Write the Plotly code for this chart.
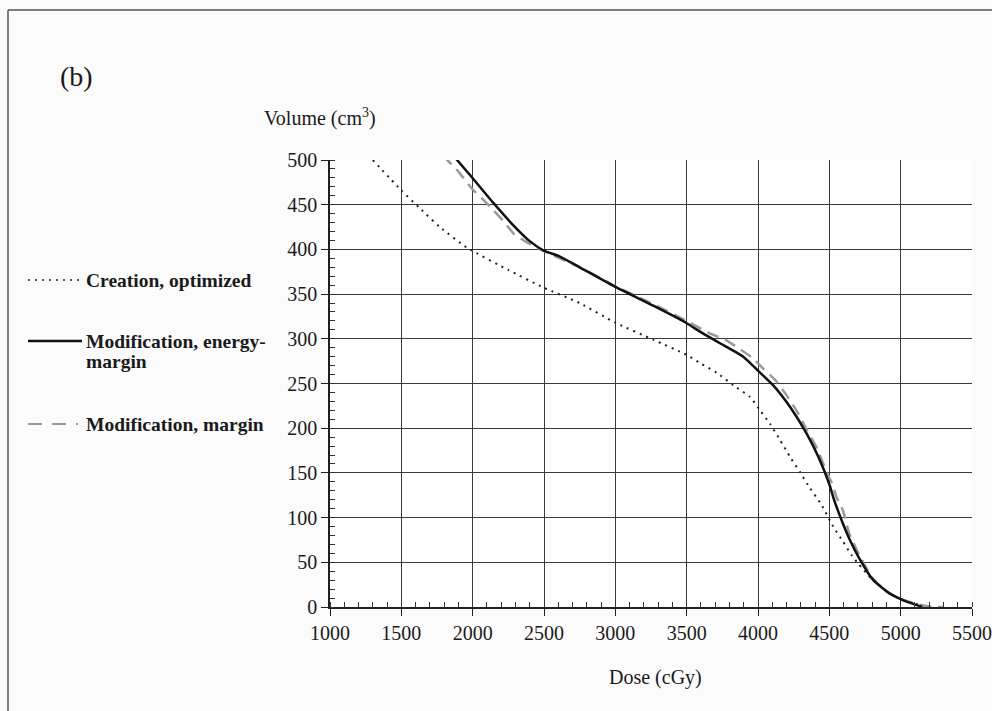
import plotly.graph_objects as go

# ---------------- data ----------------
dose_creation = [1300, 1500, 1630, 1770, 1960, 2250, 2500, 2750, 3000, 3266, 3500, 3593, 3711, 3827, 3944, 4014, 4084,
                 4154, 4224, 4294, 4364, 4446, 4527, 4597, 4656, 4700, 4800, 4925, 5042, 5200]
vol_creation = [500, 466, 446, 425, 402, 377, 357, 340, 318, 299, 282, 273, 262, 248, 235, 220, 205,
                187, 168, 151, 133, 114, 90, 73, 58, 49, 31, 15, 6, 0]

dose_energy = [1864, 1993, 2145, 2285, 2402, 2495, 2612, 2750, 3000, 3266, 3495, 3593, 3734, 3897, 4009, 4107, 4224,
               4341, 4423, 4505, 4527, 4586, 4644, 4715, 4808, 4925, 5042, 5135, 5150]
vol_energy = [505, 481, 452, 427, 409, 399, 392, 380, 358, 337, 318, 308, 295, 280, 263, 248, 224,
              194, 168, 135, 123, 97, 75, 53, 30, 15, 6, 1, 0]

dose_margin = [1792, 1900, 2000, 2090, 2145, 2225, 2285, 2390, 2500, 2750, 3000, 3250, 3500, 3663, 3768, 3860, 3965,
               4035, 4120, 4200, 4280, 4343, 4415, 4483, 4520, 4550, 4595, 4640, 4720, 4800, 4900, 5000, 5150, 5230, 5300]
vol_margin = [505, 487, 467, 453, 444, 430, 418, 407, 398, 380, 359, 340, 320, 306, 299, 290, 278,
              267, 254, 237, 217, 198, 177, 150, 138, 123, 108, 82, 55, 33, 17, 9, 2, 0, 0]

x_ticks = [1000, 1500, 2000, 2500, 3000, 3500, 4000, 4500, 5000, 5500]
y_ticks = [0, 50, 100, 150, 200, 250, 300, 350, 400, 450, 500]

series_names = ["Creation, optimized", "Modification, energy-margin", "Modification, margin"]

# ---------------- layout geometry ----------------
W, H = 992, 711
L, R, T, B = 330, 972, 160, 607   # plot area in pixels


def px(x):
    return (x - L) / (R - L)


def py(y):
    return (B - y) / (B - T)


SERIF = "Liberation Serif, Times New Roman, serif"
TXT = "#1a1a1a"

fig = go.Figure()
fig.add_trace(go.Scatter(x=dose_creation, y=vol_creation, mode="lines",
                         line=dict(color="#222222", width=2, dash="2px,5px", shape="spline", smoothing=0.5),
                         name=series_names[0], showlegend=False))
fig.add_trace(go.Scatter(x=dose_margin, y=vol_margin, mode="lines",
                         line=dict(color="#9a9a9a", width=2.5, dash="12px,7px", shape="spline", smoothing=0.5),
                         name=series_names[2], showlegend=False))
fig.add_trace(go.Scatter(x=dose_energy, y=vol_energy, mode="lines",
                         line=dict(color="#111111", width=2.5, shape="spline", smoothing=0.5),
                         name=series_names[1], showlegend=False))

axis_common = dict(showgrid=True, gridcolor="#3a3a3a", gridwidth=1, zeroline=False,
                   showline=True, linecolor="#222222", linewidth=1.5,
                   ticks="outside", ticklen=7, tickcolor="#222222", automargin=False,
                   tickfont=dict(family=SERIF, size=20, color=TXT))

fig.update_xaxes(range=[1000, 5500], tickvals=x_ticks, ticktext=[str(v) for v in x_ticks],
                 minor=dict(dtick=100, tick0=1000, ticks="inside", ticklen=5, tickcolor="#333333", showgrid=False),
                 **axis_common)
fig.update_yaxes(range=[0, 500], tickvals=y_ticks, ticktext=[str(v) for v in y_ticks],
                 minor=dict(dtick=10, tick0=0, ticks="inside", ticklen=5, tickcolor="#333333", showgrid=False),
                 **axis_common)

leg_font = dict(family=SERIF, size=19.5, color=TXT)
energy_parts = ["Modification, energy-", "margin"]

annotations = [
    dict(text="(b)", x=px(58), y=py(76), xref="paper", yref="paper", xanchor="left", yanchor="middle",
         showarrow=False, font=dict(family=SERIF, size=28, color=TXT)),
    dict(text="Volume (cm<sup>3</sup>)", x=px(262), y=py(117), xref="paper", yref="paper",
         xanchor="left", yanchor="middle", showarrow=False, font=dict(family=SERIF, size=20, color=TXT)),
    dict(text="Dose (cGy)", x=px(655), y=py(677), xref="paper", yref="paper",
         xanchor="center", yanchor="middle", showarrow=False, font=dict(family=SERIF, size=20, color=TXT)),
    dict(text="<b>" + series_names[0] + "</b>", x=px(84), y=py(280), xref="paper", yref="paper",
         xanchor="left", yanchor="middle", showarrow=False, font=leg_font),
    dict(text="<b>" + energy_parts[0] + "</b>", x=px(84), y=py(341), xref="paper", yref="paper",
         xanchor="left", yanchor="middle", showarrow=False, font=leg_font),
    dict(text="<b>" + energy_parts[1] + "</b>", x=px(84), y=py(361), xref="paper", yref="paper",
         xanchor="left", yanchor="middle", showarrow=False, font=leg_font),
    dict(text="<b>" + series_names[2] + "</b>", x=px(84), y=py(424), xref="paper", yref="paper",
         xanchor="left", yanchor="middle", showarrow=False, font=leg_font),
]

shapes = [
    # outer frame (top and left edges)
    dict(type="line", xref="paper", yref="paper", x0=px(8), x1=px(992), y0=py(10), y1=py(10),
         line=dict(color="#555555", width=1.5)),
    dict(type="line", xref="paper", yref="paper", x0=px(8), x1=px(8), y0=py(10), y1=py(711),
         line=dict(color="#555555", width=1.5)),
    # legend samples
    dict(type="line", xref="paper", yref="paper", x0=px(28), x1=px(79), y0=py(280), y1=py(280),
         line=dict(color="#222222", width=1.5, dash="2px,5px")),
    dict(type="line", xref="paper", yref="paper", x0=px(28), x1=px(82), y0=py(341), y1=py(341),
         line=dict(color="#111111", width=2.5)),
    dict(type="line", xref="paper", yref="paper", x0=px(28), x1=px(78), y0=py(424), y1=py(424),
         line=dict(color="#9a9a9a", width=2, dash="14px,10px")),
]

fig.update_layout(
    width=W, height=H,
    margin=dict(l=L, r=W - R, t=T, b=H - B, pad=0, autoexpand=False),
    paper_bgcolor="#fbfbfb", plot_bgcolor="#ffffff",
    showlegend=False,
    annotations=annotations,
    shapes=shapes,
    font=dict(family=SERIF),
)

fig.write_html("out.html", config={"displayModeBar": False},
               post_script="document.body.style.margin='0';document.body.style.overflow='hidden';")
